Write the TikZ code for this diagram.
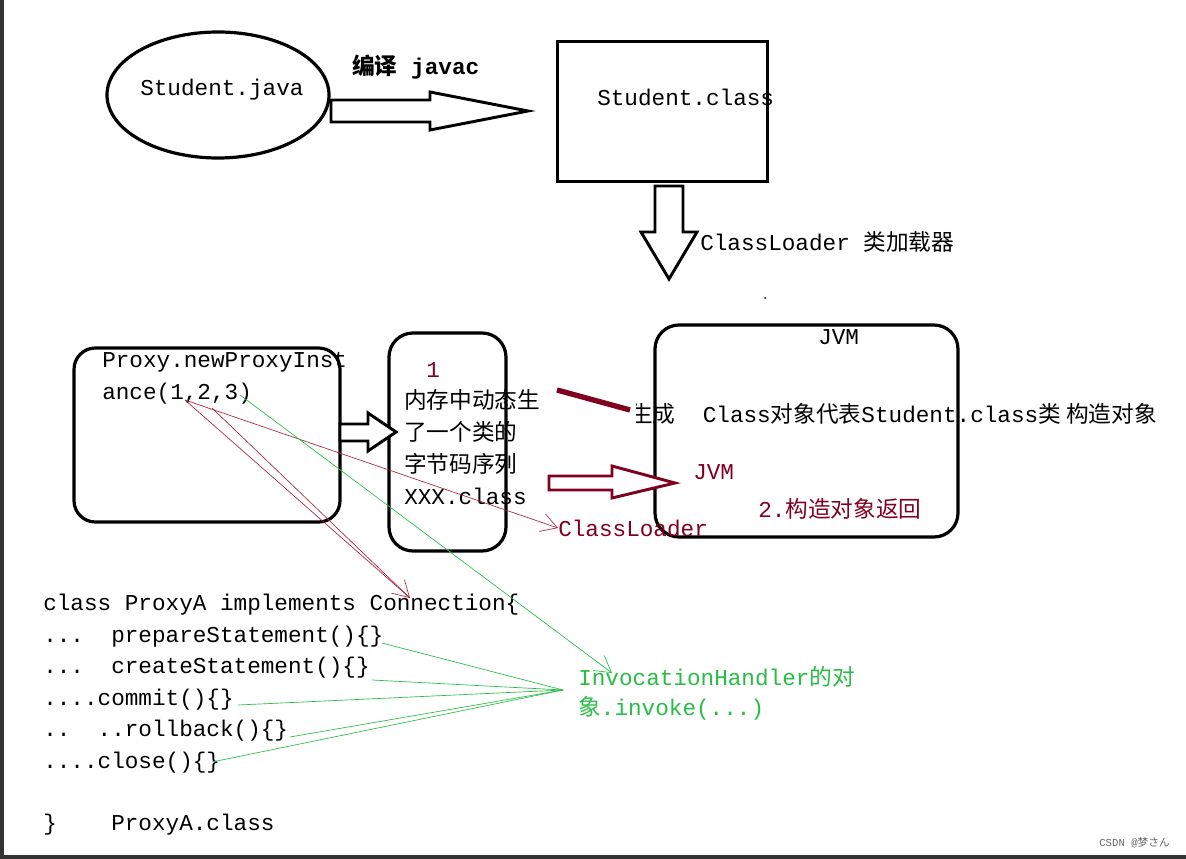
\documentclass[tikz,border=0pt]{standalone}
\usepackage{fontspec}
\setmainfont{Liberation Mono}
\newfontfamily\cjk{Noto Sans CJK SC}
\usetikzlibrary{shapes.geometric,arrows.meta}
\definecolor{dred}{RGB}{128,0,32}
\definecolor{lred}{RGB}{170,40,60}
\definecolor{grn}{RGB}{40,190,70}
\begin{document}
\begin{tikzpicture}[x=0.75pt,y=-0.75pt,
  t/.style={anchor=west,inner sep=0pt,font=\fontsize{17}{19}\selectfont},
  hol/.style={draw,line width=2.2pt,fill=white,line join=miter},
  thin/.style={line width=0.5pt},
  oa/.style={-{Straight Barb[length=12pt,width=14pt,line width=0.5pt]}}]
\useasboundingbox (0,0) rectangle (1186,859);
\fill[white] (0,0) rectangle (1186,859);
\fill[black!80] (0,0) rectangle (4,859);
\fill[black!80] (0,855) rectangle (1186,859);
% top
\draw[line width=2.4pt] (218,95) ellipse [x radius=111, y radius=63];
\node[t] (sj) at (140,90) {Student.java};
\node[t,font=\fontsize{17}{19}\selectfont\bfseries] (bj) at (352,67) {{\cjk\bfseries 编译} javac};
\draw[hol] (331,100) -- (430,100) -- (430,92) -- (528,111) -- (430,130) -- (430,122) -- (331,122) -- cycle;
\node[draw,line width=2.4pt,minimum width=157.5pt,minimum height=105pt,anchor=north west] (sc) at (556,40) {};
\node[t] (sct) at (597,97) {Student.class};
\draw[hol] (655,186) -- (683,186) -- (683,232) -- (697,232) -- (669,279) -- (641,232) -- (655,232) -- cycle;
\node[t] (cl) at (700,242) {ClassLoader {\cjk 类加载器}};
\fill (765,298) circle (1);
% JVM box
\draw[line width=2.4pt,rounded corners=18pt] (655,325) rectangle (958,537);
\node[t] (jvm) at (818,337) {JVM};
\begin{scope}
\clip (636,380) rectangle (1186,440);
\node[t] (gen) at (630,414) {{\cjk 生成}\ \ Class{\cjk 对象代表}Student.class{\cjk 类 构造对象}};
\end{scope}
\draw[dred,line width=4pt] (557,390) -- (630,410);
\node[t,text=dred] (jvm2) at (693,472) {JVM};
\node[t,text=dred] (ret) at (758,509) {2.{\cjk 构造对象返回}};
\draw[hol,draw=dred] (549,476) -- (612,476) -- (612,466) -- (675,483) -- (612,498) -- (612,490) -- (549,490) -- cycle;
% left box
\draw[line width=2.4pt,rounded corners=16pt] (74,348) rectangle (340,522);
\node[t] (p1) at (102,362) {Proxy.newProxyInst};
\node[t] (p2) at (102,394) {ance(1,2,3)};
% middle box
\draw[line width=2.4pt,rounded corners=18pt] (389,333) rectangle (506,551);
\node[t,text=dred] (one) at (426,370) {1};
\node[t] (m1) at (404,400) {\cjk 内存中动态生};
\node[t] (m2) at (404,432) {\cjk 了一个类的};
\node[t] (m3) at (404,464) {\cjk 字节码序列};
\node[t] (m4) at (404,496) {XXX.class};
\draw[hol] (340,424) -- (368,424) -- (368,413) -- (396,432) -- (368,451) -- (368,441) -- (340,441) -- cycle;
% red thin
\node[t,text=dred] (cld) at (558,528) {ClassLoader};
\coordinate (r0) at (185,400);
\coordinate (r1) at (212,408);
\coordinate (ct) at (410,598);
\draw[lred,thin,oa] (r0) -- (cld.west);
\draw[lred,thin] (r0) -- (ct);
\draw[lred,thin,oa] (r1) -- (ct);
% code
\node[t] (c0) at (43,605) {class ProxyA implements Connection\{};
\node[t] (c1) at (43,637) {...\ \ prepareStatement()\{\}};
\node[t] (c2) at (43,668) {...\ \ createStatement()\{\}};
\node[t] (c3) at (43,700) {....commit()\{\}};
\node[t] (c4) at (43,731) {..\ \ ..rollback()\{\}};
\node[t] (c5) at (43,763) {....close()\{\}};
\node[t] (c6) at (43,825) {\}\ \ \ \ ProxyA.class};
% green
\node[t,text=grn] (ih1) at (578,677) {InvocationHandler{\cjk 的对}};
\node[t,text=grn] (ih2) at (578,708) {{\cjk 象}.invoke(...)};
\coordinate (g0) at (240,395);
\coordinate (gt) at (612,673);
\draw[grn,thin,oa] (g0) -- (gt);
\coordinate (h) at (563,690);
\coordinate (e1) at (382,643);
\coordinate (e2) at (372,680);
\coordinate (e3) at (238,705);
\coordinate (e4) at (290,737);
\coordinate (e5) at (212,762);
\draw[grn,thin] (e1) -- (h);
\draw[grn,thin] (e2) -- (h);
\draw[grn,thin] (e3) -- (h);
\draw[grn,thin] (e4) -- (h);
\draw[grn,thin] (e5) -- (h);
\node[anchor=east,inner sep=0pt,text=black!60,font=\fontsize{8}{9}\selectfont] (csdn) at (1170,843) {CSDN @{\cjk 梦さん}};
\end{tikzpicture}
\end{document}
